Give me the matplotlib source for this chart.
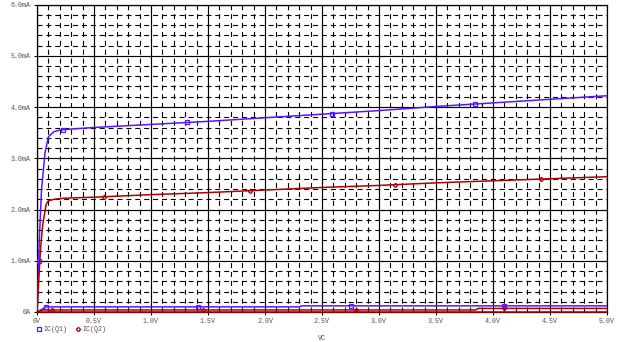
import numpy as np
import matplotlib
matplotlib.use('Agg')
import matplotlib.pyplot as plt
import matplotlib.ticker as mticker
from matplotlib.lines import Line2D

# ── Data ─────────────────────────────────────────────────────
# IC(Q1), upper curve
q1_hi_v = [0, 0.01, 0.02, 0.04, 0.07, 0.1, 0.15, 0.2, 0.3, 0.5, 1.0, 1.5, 2.0, 2.5, 3.0, 3.5, 4.0, 4.5, 5.0]
q1_hi_i = [0, 0.6, 1.4, 2.4, 3.1, 3.42, 3.52, 3.55, 3.57, 3.60, 3.66, 3.72, 3.79, 3.86, 3.93, 4.01, 4.08, 4.15, 4.22]
# IC(Q1), lower curve
q1_lo_v = [0, 0.04, 0.08, 2.3, 2.32, 5.0]
q1_lo_i = [0, 0.05, 0.10, 0.10, 0.12, 0.12]
# IC(Q2), upper curve
q2_hi_v = [0, 0.01, 0.03, 0.05, 0.08, 0.1, 0.15, 0.23, 0.5, 1.0, 1.5, 2.0, 2.5, 3.0, 3.5, 4.0, 4.5, 5.0]
q2_hi_i = [0, 0.4, 1.2, 1.7, 2.1, 2.17, 2.2, 2.22, 2.24, 2.29, 2.33, 2.38, 2.43, 2.47, 2.52, 2.56, 2.60, 2.64]
# IC(Q2), lower curves
q2_lo_v = [0, 0.05, 3.85, 3.87, 5.0]
q2_lo_i = [0, 0.04, 0.04, 0.07, 0.07]
q2_zero_v = [0, 5.0]
q2_zero_i = [0.005, 0.005]

# marker positions (V)
q1_hi_mark = [0.015, 0.23, 1.32, 2.59, 3.84]
q1_lo_mark = [0.08, 1.41, 2.75, 4.1]
q2_hi_mark = [0.59, 1.87, 3.14, 4.42]
q2_lo_mark = [0.13, 1.46, 2.8, 4.1]

x_ticks = [0, 0.5, 1.0, 1.5, 2.0, 2.5, 3.0, 3.5, 4.0, 4.5, 5.0]
x_labels = ['0V', '0.5V', '1.0V', '1.5V', '2.0V', '2.5V', '3.0V', '3.5V', '4.0V', '4.5V', '5.0V']
y_ticks = [0, 1, 2, 3, 4, 5, 6]
y_labels = ['0A', '1.0mA', '2.0mA', '3.0mA', '4.0mA', '5.0mA', '6.0mA']

BLUE = '#5a14ff'
RED = '#b00000'
TXT = '#505050'
FONT = ['Liberation Mono', 'DejaVu Sans Mono']
FS = 4.8

# ── Figure ───────────────────────────────────────────────────
fig = plt.figure(figsize=(6.23, 3.42), dpi=100)
fig.patch.set_facecolor('white')
ax = fig.add_axes([37/623, 30/342, 570/623, 307.5/342])
ax.set_xlim(0, 5)
ax.set_ylim(0, 6)

ax.xaxis.set_minor_locator(mticker.MultipleLocator(0.1))
ax.yaxis.set_minor_locator(mticker.MultipleLocator(0.2))
ax.set_xticks(x_ticks)
ax.set_xticklabels(x_labels, fontsize=FS, color=TXT, family=FONT)
ax.set_yticks(y_ticks)
ax.set_yticklabels(y_labels, fontsize=FS, color=TXT, family=FONT)
ax.tick_params(which='major', length=2, width=0.72, pad=2.5)
ax.tick_params(which='minor', length=0)
ax.grid(which='major', color='black', lw=0.85, ls='-')
ax.grid(which='minor', color='black', lw=0.8, ls=(0, (4.5, 3.5)))
ax.set_axisbelow(True)
for s in ax.spines.values():
    s.set_color('black')
    s.set_linewidth(0.9)

# curves
ax.plot(q1_hi_v, q1_hi_i, color=BLUE, lw=1.1, zorder=3)
ax.plot(q1_lo_v, q1_lo_i, color=BLUE, lw=1.1, zorder=3)
ax.plot(q2_hi_v, q2_hi_i, color=RED, lw=1.1, zorder=3)
ax.plot(q2_lo_v, q2_lo_i, color=RED, lw=1.1, zorder=3)
ax.plot(q2_zero_v, q2_zero_i, color=RED, lw=1.1, zorder=4, clip_on=False)

# markers
ax.plot(q1_hi_mark, np.interp(q1_hi_mark, q1_hi_v, q1_hi_i), ls='none', marker='s',
        ms=3.5, mfc='none', mec=BLUE, mew=0.9, zorder=5)
ax.plot(q1_lo_mark, np.interp(q1_lo_mark, q1_lo_v, q1_lo_i), ls='none', marker='s',
        ms=3.5, mfc='none', mec=BLUE, mew=0.9, zorder=5)
ax.plot(q2_hi_mark, np.interp(q2_hi_mark, q2_hi_v, q2_hi_i), ls='none', marker='D',
        ms=2.2, mfc='none', mec=RED, mew=0.9, zorder=5)
ax.plot(q2_lo_mark, np.interp(q2_lo_mark, q2_lo_v, q2_lo_i), ls='none', marker='D',
        ms=2.2, mfc='none', mec=RED, mew=0.9, zorder=5, clip_on=False)

ax.set_xlabel('VC', fontsize=FS, color=TXT, family=FONT, labelpad=7)

handles = [Line2D([], [], ls='none', marker='s', ms=3.5, mfc='none', mec=BLUE, mew=0.9),
           Line2D([], [], ls='none', marker='D', ms=2.2, mfc='none', mec=RED, mew=0.9)]
leg = ax.legend(handles, ['IC(Q1)', 'IC(Q2)'], loc='upper left', bbox_to_anchor=(0.0, -0.045),
                ncol=2, frameon=False, handlelength=0.6, handletextpad=0.4, columnspacing=1.2,
                borderaxespad=0, borderpad=0, prop={'family': FONT, 'size': FS})
for t in leg.get_texts():
    t.set_color(TXT)

plt.savefig('out.png', dpi=100, facecolor='white')
